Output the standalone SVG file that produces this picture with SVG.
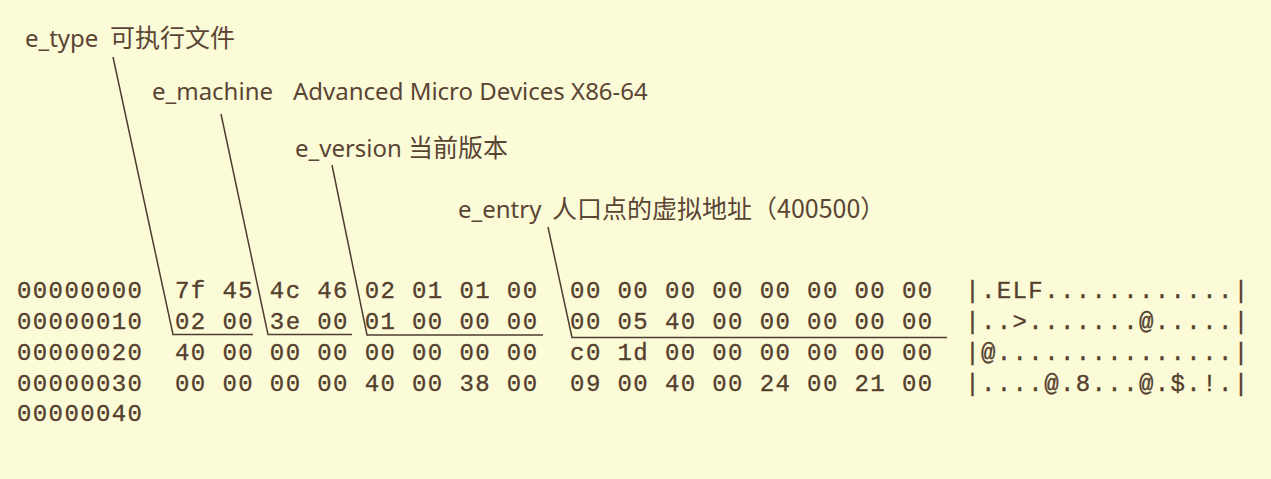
<svg xmlns="http://www.w3.org/2000/svg" width="1271" height="479" viewBox="0 0 1271 479">
  <style>
    .bg { fill: #fcfbd8; }
    .lbl { font-family: "Noto Sans", "Noto Sans CJK SC", sans-serif; font-size: 24px; fill: #5a4535; }
    .cjk { font-family: "Noto Sans CJK SC", sans-serif; font-size: 25px; }
    .hex { font-family: "Liberation Mono", "DejaVu Sans Mono", monospace; font-size: 24px; letter-spacing: 1.4px; fill: #553f2e; stroke: #553f2e; stroke-width: 0.35; }
    .conn { fill: none; stroke: #4e3e30; stroke-width: 1.5; }
  </style>
  <rect class="bg" x="0" y="0" width="1271" height="479"/>

  <g id="label-e_type">
    <text class="lbl" x="25" y="47">e_type<tspan class="cjk" x="110">可执行文件</tspan></text>
  </g>
  <g id="label-e_machine">
    <text class="lbl" x="152" y="100">e_machine<tspan x="293">Advanced Micro Devices X86-64</tspan></text>
  </g>
  <g id="label-e_version">
    <text class="lbl" x="295" y="157">e_version<tspan class="cjk" x="408">当前版本</tspan></text>
  </g>
  <g id="label-e_entry">
    <text class="lbl" x="458" y="218">e_entry<tspan class="cjk" x="552">人口点的虚拟地址（400500）</tspan></text>
  </g>

  <g id="hexdump">
    <text class="hex" x="17" y="298" xml:space="preserve">00000000  7f 45 4c 46 02 01 01 00  00 00 00 00 00 00 00 00  |.ELF............|</text>
    <text class="hex" x="17" y="329" xml:space="preserve">00000010  02 00 3e 00 01 00 00 00  00 05 40 00 00 00 00 00  |..>.......@.....|</text>
    <text class="hex" x="17" y="360" xml:space="preserve">00000020  40 00 00 00 00 00 00 00  c0 1d 00 00 00 00 00 00  |@...............|</text>
    <text class="hex" x="17" y="391" xml:space="preserve">00000030  00 00 00 00 40 00 38 00  09 00 40 00 24 00 21 00  |....@.8...@.$.!.|</text>
    <text class="hex" x="17" y="421" xml:space="preserve">00000040</text>
  </g>

  <g id="connectors">
    <path class="conn" d="M113,57 L173,334.5 H253"/>
    <path class="conn" d="M221,114 L268,334.5 H352"/>
    <path class="conn" d="M332,165 L367,335 H543"/>
    <path class="conn" d="M548,227 L572,337.5 H947"/>
  </g>
</svg>
